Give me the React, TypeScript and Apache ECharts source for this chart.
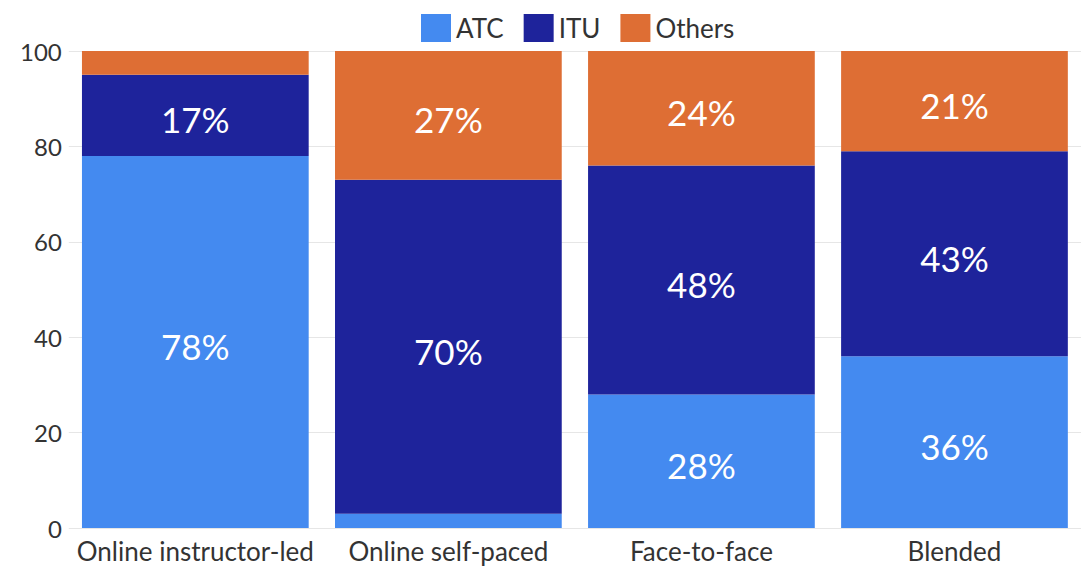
import React, { useEffect, useRef } from "react";
import * as echarts from "echarts";

const categories = ["Online instructor-led", "Online self-paced", "Face-to-face", "Blended"];
const atc = [78, 3, 28, 36];
const itu = [17, 70, 48, 43];
const others = [5, 27, 24, 21];
const yTicks = [0, 20, 40, 60, 80, 100];

const FONT = "Lato, 'Noto Sans', sans-serif";

export default function App() {
  const ref = useRef<HTMLDivElement>(null);
  useEffect(() => {
    if (!ref.current) return;
    const chart = echarts.init(ref.current, null, { renderer: "svg" });
    const label = {
      show: true,
      position: "inside",
      color: "#ffffff",
      fontSize: 35,
      fontWeight: "normal",
      offset: [0, 4],
      fontFamily: FONT,
      formatter: (p: any) => (p.value >= 10 ? p.value + "%" : ""),
    };
    const mk = (name: string, data: number[], color: string) => ({
      name,
      type: "bar",
      stack: "total",
      data,
      barCategoryGap: "10.4%",
      itemStyle: { color },
      label,
    });
    chart.setOption({
      animation: false,
      textStyle: { fontFamily: FONT },
      legend: {
        top: 9,
        left: 416,
        itemWidth: 30,
        itemHeight: 28,
        itemGap: 20,
        icon: "rect",
        textStyle: { fontSize: 26, color: "#333", fontFamily: FONT },
        data: ["ATC", "ITU", "Others"],
      },
      grid: { left: 68.8, right: -6.8, top: 51, bottom: 38 },
      xAxis: {
        type: "category",
        data: categories,
        axisTick: { show: false },
        axisLine: { show: false },
        axisLabel: { fontSize: 26, color: "#333", margin: 10, interval: 0, fontFamily: FONT },
      },
      yAxis: {
        type: "value",
        min: yTicks[0],
        max: yTicks[yTicks.length - 1],
        interval: 20,
        splitLine: { lineStyle: { color: "#e6e6e6" } },
        axisLabel: { fontSize: 24, color: "#333", margin: 7, fontFamily: FONT },
      },
      series: [
        mk("ATC", atc, "#448AF0"),
        mk("ITU", itu, "#1E239B"),
        mk("Others", others, "#DE6E34"),
      ],
    });
    return () => chart.dispose();
  }, []);
  return (
    <div
      ref={ref}
      style={{ position: "absolute", left: 0, top: 0, width: 1081, height: 566 }}
    />
  );
}
